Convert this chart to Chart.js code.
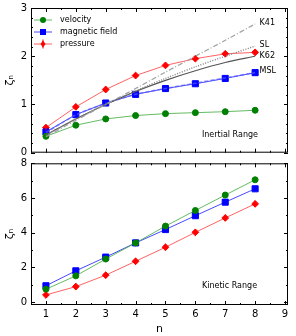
<!DOCTYPE html>
<html>
<head>
<meta charset="utf-8">
<script src="https://cdn.jsdelivr.net/npm/chart.js@4.4.0/dist/chart.umd.min.js"></script>
<style>
  body { margin: 0; background: #fff; }
  #wrap { position: relative; width: 296px; height: 336px; }
  canvas { position: absolute; left: 0; }
</style>
</head>
<body>
<div id="wrap">
  <canvas id="top" width="296" height="158" style="top:0"></canvas>
  <canvas id="bottom" width="296" height="178" style="top:158px"></canvas>
</div>
<script>
// orders n
const orders = [1, 2, 3, 4, 5, 6, 7, 8];

// inertial range exponents
const velInertial  = [0.34, 0.57, 0.70, 0.77, 0.81, 0.83, 0.85, 0.88];
const magInertial  = [0.43, 0.79, 1.03, 1.21, 1.33, 1.43, 1.54, 1.66];
const presInertial = [0.52, 0.95, 1.31, 1.60, 1.81, 1.95, 2.05, 2.08];
const presInertialErr = [0.06, 0.06, 0.06, 0.06, 0.06, 0.06, 0.06, 0.06];

// model curves
const k41 = [0.33, 0.67, 1.00, 1.33, 1.67, 2.00, 2.33, 2.67];
const sl  = [0.36, 0.70, 1.00, 1.28, 1.54, 1.78, 2.00, 2.21];
const k62 = [0.37, 0.70, 1.00, 1.27, 1.50, 1.70, 1.87, 2.00];
const msl = [0.42, 0.78, 1.02, 1.21, 1.33, 1.44, 1.55, 1.66];
const modelNames = ['K41', 'SL', 'K62', 'MSL'];

// kinetic range exponents
const velKinetic  = [0.74, 1.51, 2.48, 3.41, 4.38, 5.28, 6.17, 7.05];
const magKinetic  = [0.94, 1.80, 2.59, 3.41, 4.18, 4.98, 5.76, 6.53];
const presKinetic = [0.41, 0.89, 1.55, 2.35, 3.16, 4.02, 4.85, 5.66];
const presKineticErr = [0.18, 0.18, 0.18, 0.18, 0.18, 0.18, 0.18, 0.18];

const xTicks = [1, 2, 3, 4, 5, 6, 7, 8, 9];
const yTicksTop = [0, 1, 2, 3];
const yTicksBottom = [0, 2, 4, 6, 8];

const FONT = 'DejaVu Sans';
const GREEN = '#008000', BLUE = '#0000ff', RED = '#ff0000';

const pts = ys => ys.map((y, i) => ({ x: orders[i], y }));

function dataSet(label, ys, color, line, style, radius, extra) {
  return Object.assign({
    label, data: pts(ys), borderColor: line, backgroundColor: color,
    pointBackgroundColor: color, pointBorderColor: color, pointStyle: style,
    pointRadius: radius, borderWidth: 1, tension: 0
  }, extra || {});
}
function modelSet(label, ys, color, dash, width) {
  return { label, data: pts(ys), borderColor: color, borderDash: dash, borderWidth: width,
           pointRadius: 0, tension: 0.3, fill: false };
}

// inward ticks, frame, error bars, y title and texts
const decor = {
  id: 'decor',
  afterDatasetsDraw(chart, args, o) {
    const { ctx, chartArea: a, scales: { x, y } } = chart;
    ctx.save();
    // error bars on pressure
    if (o.err) {
      const ds = chart.data.datasets[o.errIndex];
      ctx.strokeStyle = RED; ctx.lineWidth = 1;
      ds.data.forEach((p, i) => {
        const px = x.getPixelForValue(p.x);
        ctx.beginPath();
        ctx.moveTo(px, y.getPixelForValue(p.y - o.err[i]));
        ctx.lineTo(px, y.getPixelForValue(p.y + o.err[i]));
        ctx.stroke();
      });
    }
    ctx.strokeStyle = '#000'; ctx.lineWidth = 1;
    ctx.strokeRect(a.left + 0.5, a.top + 0.5, a.right - a.left - 1, a.bottom - a.top - 1);
    const tick = (x1, y1, x2, y2) => { ctx.beginPath(); ctx.moveTo(x1, y1); ctx.lineTo(x2, y2); ctx.stroke(); };
    for (let v = 0.5; v <= 9.1; v += 0.5) {
      const px = Math.round(x.getPixelForValue(v)) + 0.5;
      const len = Number.isInteger(v) ? 4 : 2;
      tick(px, a.bottom, px, a.bottom - len);
      tick(px, a.top, px, a.top + len);
    }
    for (let v = y.min; v <= y.max + 1e-6; v += o.yMinor) {
      const vv = Math.round(v / o.yMinor) * o.yMinor;
      if (vv < y.min - 1e-6) continue;
      const py = Math.round(y.getPixelForValue(vv)) + 0.5;
      const major = Math.abs(vv / o.yMajor - Math.round(vv / o.yMajor)) < 1e-6;
      const len = major ? 4 : 2;
      tick(a.left, py, a.left + len, py);
      tick(a.right, py, a.right - len, py);
    }
    // y title
    ctx.fillStyle = '#000';
    ctx.font = '11px ' + FONT;
    ctx.translate(10, (a.top + a.bottom) / 2);
    ctx.rotate(-Math.PI / 2);
    ctx.textAlign = 'center'; ctx.textBaseline = 'middle';
    ctx.fillText('ζₙ', 0, 0);
    ctx.setTransform(1, 0, 0, 1, 0, 0);
    // annotations
    ctx.font = '8px ' + FONT;
    ctx.textAlign = 'left'; ctx.textBaseline = 'middle';
    (o.texts || []).forEach(t => ctx.fillText(t.text, x.getPixelForValue(t.x), y.getPixelForValue(t.y)));
    // legend
    if (o.legend) {
      o.legend.forEach((it, i) => {
        const ly = 20 + i * 12;
        ctx.strokeStyle = it.line; ctx.lineWidth = 1;
        tick(34, ly, 52, ly);
        ctx.fillStyle = it.color;
        const mx = 43;
        if (it.shape === 'circle') { ctx.beginPath(); ctx.arc(mx, ly, 3, 0, Math.PI * 2); ctx.fill(); }
        else if (it.shape === 'rect') { ctx.fillRect(mx - 3, ly - 3, 6, 6); }
        else {
          ctx.beginPath(); ctx.moveTo(mx, ly - 3.5); ctx.lineTo(mx + 2.5, ly); ctx.lineTo(mx, ly + 3.5); ctx.lineTo(mx - 2.5, ly); ctx.closePath(); ctx.fill();
          ctx.strokeStyle = it.color; tick(mx, ly - 4.5, mx, ly + 4.5);
        }
        ctx.fillStyle = '#000';
        ctx.fillText(it.label, 60, ly);
      });
    }
    ctx.restore();
  }
};

function scales(yMin, yMax, yTicks, showX, xHeight) {
  const zeroPad = s => { s.paddingTop = 0; s.paddingBottom = 0; s.paddingLeft = 0; s.paddingRight = 0; };
  return {
    x: {
      type: 'linear', min: 0.5, max: 9.1,
      afterBuildTicks: s => { s.ticks = xTicks.map(v => ({ value: v })); },
      afterFit: s => { s.height = xHeight; zeroPad(s); },
      grid: { display: false, drawTicks: false },
      border: { display: false },
      ticks: { display: showX, padding: 3, color: '#000', font: { family: FONT, size: 10 } },
      title: { display: showX, text: 'n', color: '#000', padding: 0, font: { family: FONT, size: 11 } }
    },
    y: {
      min: yMin, max: yMax,
      afterBuildTicks: s => { s.ticks = yTicks.map(v => ({ value: v })); },
      afterFit: s => { s.width = 31; zeroPad(s); },
      grid: { display: false, drawTicks: false },
      border: { display: false },
      ticks: { padding: 4, color: '#000', font: { family: FONT, size: 10 } }
    }
  };
}

const common = {
  responsive: false, animation: false, devicePixelRatio: 1,
  plugins: { legend: { display: false }, tooltip: { enabled: false } }
};

new Chart(document.getElementById('top'), {
  type: 'line',
  data: {
    datasets: [
      modelSet('K41', k41, '#a0a0a0', [5, 2, 1, 2], 1.2),
      modelSet('SL', sl, '#808080', [1, 1.5], 1.4),
      modelSet('K62', k62, '#555555', [], 1.2),
      modelSet('MSL', msl, 'rgba(90,90,255,0.7)', [4, 2], 1.6),
      dataSet('velocity', velInertial, GREEN, 'rgba(60,170,60,0.8)', 'circle', 3),
      dataSet('magnetic field', magInertial, BLUE, 'rgba(40,40,255,0.85)', 'rect', 4.3),
      dataSet('pressure', presInertial, RED, 'rgba(255,70,70,0.85)', 'rectRot', 3.4)
    ]
  },
  options: Object.assign({}, common, {
    layout: { padding: { top: 8, right: 8, left: 0, bottom: 0 } },
    scales: scales(0, 3, yTicksTop, false, 5),
    plugins: Object.assign({}, common.plugins, {
      decor: {
        err: presInertialErr, errIndex: 6, yMinor: 0.2, yMajor: 1,
        texts: [
          { text: modelNames[0], x: 8.15, y: 2.70 },
          { text: modelNames[1], x: 8.15, y: 2.24 },
          { text: modelNames[2], x: 8.15, y: 2.00 },
          { text: modelNames[3], x: 8.15, y: 1.70 },
          { text: 'Inertial Range', x: 6.22, y: 0.36 }
        ],
        legend: [
          { label: 'velocity', color: GREEN, line: 'rgba(60,170,60,0.8)', shape: 'circle' },
          { label: 'magnetic field', color: BLUE, line: 'rgba(40,40,255,0.85)', shape: 'rect' },
          { label: 'pressure', color: RED, line: 'rgba(255,70,70,0.85)', shape: 'diamond' }
        ]
      }
    })
  }),
  plugins: [decor]
});

new Chart(document.getElementById('bottom'), {
  type: 'line',
  data: {
    datasets: [
      dataSet('velocity', velKinetic, GREEN, 'rgba(60,170,60,0.8)', 'circle', 3),
      dataSet('magnetic field', magKinetic, BLUE, 'rgba(40,40,255,0.85)', 'rect', 4.3),
      dataSet('pressure', presKinetic, RED, 'rgba(255,70,70,0.85)', 'rectRot', 3.4)
    ]
  },
  options: Object.assign({}, common, {
    layout: { padding: { top: 3, right: 8, left: 0, bottom: 0 } },
    scales: scales(-0.17, 8, yTicksBottom, true, 31),
    plugins: Object.assign({}, common.plugins, {
      decor: {
        err: presKineticErr, errIndex: 2, yMinor: 1, yMajor: 2,
        texts: [ { text: 'Kinetic Range', x: 6.22, y: 0.93 } ]
      }
    })
  }),
  plugins: [decor]
});
</script>
</body>
</html>
